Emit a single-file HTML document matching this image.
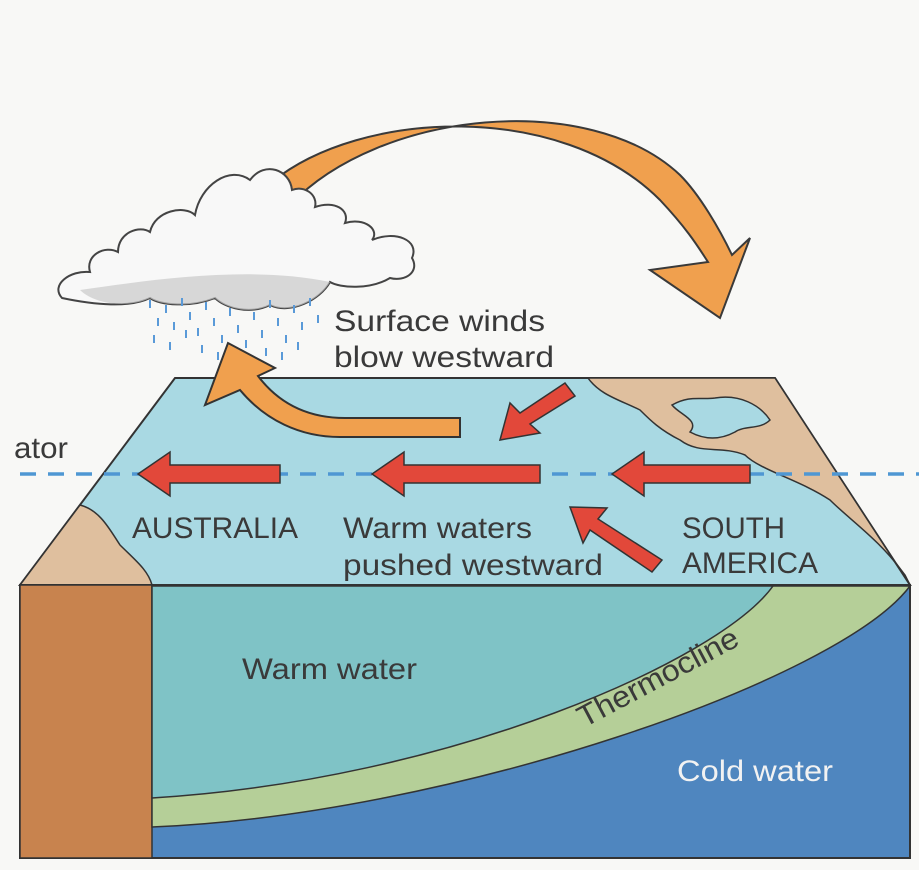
<!DOCTYPE html>
<html><head><meta charset="utf-8"><style>
html,body{margin:0;padding:0;background:#f8f8f6;}
svg{display:block}
text{font-family:"Liberation Sans",sans-serif;fill:#3a3a3a;}
</style></head><body>
<svg width="919" height="870" viewBox="0 0 919 870" xmlns="http://www.w3.org/2000/svg">
<rect width="919" height="870" fill="#f8f8f6"/>
<!-- big orange arc -->
<path d="M272,182 C360,110 560,100 660,200 C690,232 700,250 708,262 L650,270 L720,318 L750,238 L732,255 C720,230 700,195 680,175 C590,90 380,110 290,205 Z" fill="#f0a04e" stroke="#3a3a3a" stroke-width="2"/>
<!-- cloud -->
<g stroke="#444" stroke-width="2" fill="#f8f8f8">
<path d="M62,298 C50,285 70,270 90,272 C85,255 105,245 118,252 C118,232 140,225 150,232 C155,210 185,205 195,215 C200,185 230,165 250,180 C265,160 290,170 292,190 C305,185 318,195 315,207 C335,200 350,210 345,223 C365,217 380,230 372,240 C395,230 420,240 412,258 C420,272 405,282 390,278 C370,290 340,288 330,282 C320,300 290,315 270,305 C250,315 225,308 215,298 C190,308 160,305 150,298 C130,308 95,305 62,298 Z"/>
</g>
<path d="M80,290 C150,280 250,265 330,282 C320,300 290,315 270,305 C250,315 225,308 215,298 C190,308 160,305 150,298 C130,308 95,305 80,290Z" fill="#c9c9c9" opacity="0.7"/>
<g stroke="#5a9ad8" stroke-width="2">
<path d="M150,300v8M158,318v8M166,305v8M174,322v8M182,298v8M190,312v8M198,328v8M206,302v8M214,318v8M222,335v8M230,308v8M238,325v8M246,340v8M254,312v8M262,330v8M270,300v8M278,318v8M286,335v8M294,305v8M302,322v8M310,298v8M318,315v8M154,335v8M170,342v8M186,330v8M202,345v8M218,352v8M234,348v8M250,355v8M266,348v8M282,352v8M298,342v8"/>
</g>
<!-- top face -->
<polygon points="175,378 775,378 910,585 20,585" fill="#a9d9e3" stroke="#333" stroke-width="2"/>
<!-- right land -->
<path d="M588,378 L775,378 L910,585 L905,575 C880,540 850,520 830,500 C800,480 760,470 745,455 C720,445 700,455 680,440 C660,430 650,420 640,410 C620,400 600,395 588,378Z" fill="#dfbf9e" stroke="#333" stroke-width="1.5"/>
<path d="M672,405 C690,395 700,400 715,398 C740,394 760,405 770,420 C760,430 745,425 735,432 C720,440 705,440 690,432 C700,420 680,415 672,405Z" fill="#a9d9e3" stroke="#333" stroke-width="1.5"/>
<!-- left land -->
<path d="M20,585 L80,505 C100,510 110,530 120,545 C135,560 148,570 152,585Z" fill="#dfbf9e" stroke="#333" stroke-width="1.5"/>
<!-- equator -->
<line x1="20" y1="474" x2="919" y2="474" stroke="#4f97d3" stroke-width="3.5" stroke-dasharray="16,12"/>
<!-- small orange arrow -->
<path d="M460,418 L460,437 L340,437 C300,437 265,420 240,390 L205,405 L228,343 L275,368 L258,376 C280,405 310,418 345,418Z" fill="#f0a04e" stroke="#333" stroke-width="2"/>
<!-- red arrows -->
<g fill="#e2483a" stroke="#333" stroke-width="1.5">
<polygon points="138,474 170,452 170,465 280,465 280,483 170,483 170,496"/>
<polygon points="372,474 404,452 404,465 540,465 540,483 404,483 404,496"/>
<polygon points="612,474 644,452 644,465 750,465 750,483 644,483 644,496"/>
<polygon points="500,440 510,403 520,413 565,383 575,396 530,424 540,433"/>
<polygon points="570,507 607,508 598,519 662,560 652,572 590,530 583,543"/>
</g>
<!-- front face -->
<rect x="20" y="585" width="890" height="273" fill="#4f86bf" stroke="#333" stroke-width="2"/>
<rect x="20" y="585" width="132" height="273" fill="#c8834e" stroke="#333" stroke-width="1.5"/>
<path d="M152,586 L910,586 C840,680 450,815 152,827Z" fill="#b5cf98" stroke="#333" stroke-width="1.5"/>
<path d="M152,586 L773,586 C720,660 450,780 152,798Z" fill="#7fc3c6" stroke="#333" stroke-width="1.5"/>
<!-- text -->
<g font-size="30">
<text x="334" y="331" textLength="211" lengthAdjust="spacingAndGlyphs">Surface winds</text>
<text x="334" y="367" textLength="220" lengthAdjust="spacingAndGlyphs">blow westward</text>
<text x="14" y="458" textLength="54" lengthAdjust="spacingAndGlyphs">ator</text>
<text x="132" y="538" textLength="166" lengthAdjust="spacingAndGlyphs">AUSTRALIA</text>
<text x="343" y="538" textLength="189" lengthAdjust="spacingAndGlyphs">Warm waters</text>
<text x="343" y="575" textLength="260" lengthAdjust="spacingAndGlyphs">pushed westward</text>
<text x="682" y="538" textLength="103" lengthAdjust="spacingAndGlyphs">SOUTH</text>
<text x="682" y="573" textLength="136" lengthAdjust="spacingAndGlyphs">AMERICA</text>
<text x="242" y="679" textLength="175" lengthAdjust="spacingAndGlyphs">Warm water</text>
<text x="0" y="0" textLength="178" lengthAdjust="spacingAndGlyphs" transform="translate(584,728) rotate(-28)">Thermocline</text>
<text x="677" y="781" textLength="156" lengthAdjust="spacingAndGlyphs" style="fill:#f2f2f2">Cold water</text>
</g>
</svg>
</body></html>
